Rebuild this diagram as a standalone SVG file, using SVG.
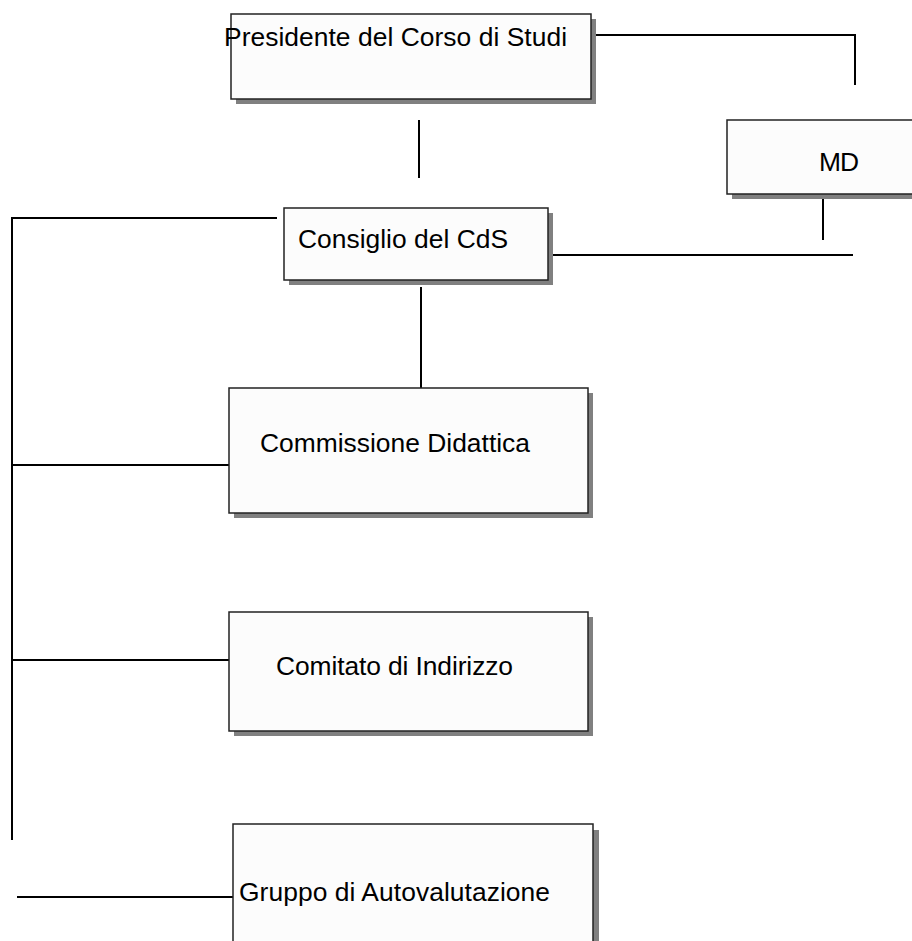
<svg xmlns="http://www.w3.org/2000/svg" width="912" height="941" viewBox="0 0 912 941">
<style>
.sh{fill:#808080;stroke:none}
.bx{fill:#fcfcfc;stroke:#222;stroke-width:1.5}
.t{font-family:"Liberation Sans",Arial,sans-serif;font-size:26.4px;fill:#000}
.c line{stroke:#000;stroke-width:2}
</style>
<rect width="912" height="941" fill="#fff"/>
<g class="c" id="connectors">
<line x1="591" y1="35" x2="856" y2="35"/>
<line x1="855" y1="35" x2="855" y2="85"/>
<line x1="419" y1="120" x2="419" y2="178"/>
<line x1="823" y1="192" x2="823" y2="240"/>
<line x1="553" y1="255" x2="853" y2="255"/>
<line x1="11" y1="218" x2="277" y2="218"/>
<line x1="12" y1="217" x2="12" y2="840"/>
<line x1="421" y1="287" x2="421" y2="388"/>
<line x1="12" y1="465" x2="229" y2="465"/>
<line x1="12" y1="660" x2="229" y2="660"/>
<line x1="17" y1="897" x2="233" y2="897"/>
</g>
<g id="presidente">
<rect class="sh" x="236" y="19" width="360" height="85"/>
<rect class="bx" x="231" y="14" width="360" height="85"/>
<text class="t" x="224" y="46" textLength="343">Presidente del Corso di Studi</text>
</g>
<g id="md">
<rect class="sh" x="732" y="125" width="200" height="74"/>
<rect class="bx" x="727" y="120" width="200" height="74"/>
<text class="t" x="819" y="171" textLength="40">MD</text>
</g>
<g id="consiglio">
<rect class="sh" x="289" y="213" width="264" height="72"/>
<rect class="bx" x="284" y="208" width="264" height="72"/>
<text class="t" x="298" y="248" textLength="210">Consiglio del CdS</text>
</g>
<g id="commissione">
<rect class="sh" x="234" y="393" width="359" height="125"/>
<rect class="bx" x="229" y="388" width="359" height="125"/>
<text class="t" x="260" y="452" textLength="270">Commissione Didattica</text>
</g>
<g id="comitato">
<rect class="sh" x="234" y="617" width="359" height="119"/>
<rect class="bx" x="229" y="612" width="359" height="119"/>
<text class="t" x="276" y="675" textLength="237">Comitato di Indirizzo</text>
</g>
<g id="gruppo">
<rect class="sh" x="239" y="830" width="360" height="150"/>
<rect class="bx" x="233" y="824" width="360" height="150"/>
<text class="t" x="239" y="901" textLength="311">Gruppo di Autovalutazione</text>
</g>
</svg>
